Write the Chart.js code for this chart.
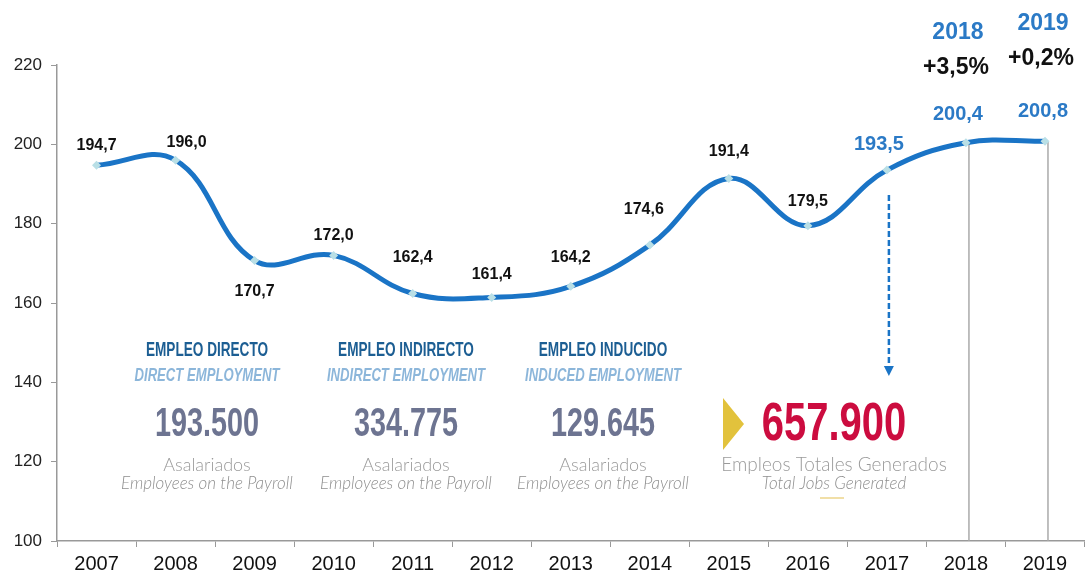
<!DOCTYPE html>
<html>
<head>
<meta charset="utf-8">
<script src="https://cdn.jsdelivr.net/npm/chart.js@4.4.0/dist/chart.umd.min.js"></script>
<style>
  body { margin: 0; background: #fff; }
  #wrap { width: 1089px; height: 577px; }
</style>
</head>
<body>
<div id="wrap"><canvas id="myChart" width="1089" height="577"></canvas></div>
<script>
// chart data
var years = ['2007', '2008', '2009', '2010', '2011', '2012', '2013', '2014', '2015', '2016', '2017', '2018', '2019'];
var empleo = [194.7, 196.0, 170.7, 172.0, 162.4, 161.4, 164.2, 174.6, 191.4, 179.5, 193.5, 200.4, 200.8];
var yTicks = [100, 120, 140, 160, 180, 200, 220];
var growthYears = ['2018', '2019'];
var growthLabels = ['+3,5%', '+0,2%'];
var blocks = [
    { titulo: 'EMPLEO DIRECTO', title: 'DIRECT EMPLOYMENT', valor: '193.500' },
    { titulo: 'EMPLEO INDIRECTO', title: 'INDIRECT EMPLOYMENT', valor: '334.775' },
    { titulo: 'EMPLEO INDUCIDO', title: 'INDUCED EMPLOYMENT', valor: '129.645' }
];
var total = '657.900';

var blue = '#1a74c6';

// offsets of value labels from their point
var labelOffsets = [[0, -20], [11, -18], [0, 31], [0, -20], [0, -36], [0, -23], [0, -29], [-6, -35], [0, -27], [0, -24], [-8, -26], [-8, -28], [-2, -30]];

function fmt(v) {
    return v.toFixed(1).replace('.', ',');
}

function condensedText(ctx, text, x, y, font, color, sx) {
    ctx.save();
    ctx.font = font;
    ctx.fillStyle = color;
    ctx.textAlign = 'center';
    ctx.textBaseline = 'middle';
    ctx.translate(x, y);
    ctx.scale(sx, 1);
    ctx.fillText(text, 0, 0);
    ctx.restore();
}

var extras = {
    id: 'extras',
    beforeDatasetsDraw: function (chart) {
        var ctx = chart.ctx;
        var meta = chart.getDatasetMeta(0);
        var yAxis = chart.scales.y;
        // drop lines for 2018 and 2019
        ctx.save();
        ctx.strokeStyle = '#aaaaaa';
        ctx.lineWidth = 1.5;
        growthYears.forEach(function (yr) {
            var p = meta.data[years.indexOf(yr)];
            ctx.beginPath();
            ctx.moveTo(p.x + 3, p.y);
            ctx.lineTo(p.x + 3, yAxis.bottom);
            ctx.stroke();
        });
        ctx.restore();

        // info blocks
        var cols = [207, 406, 603];
        blocks.forEach(function (b, i) {
            var cx = cols[i];
            condensedText(ctx, b.titulo, cx, 350, 'bold 20px "Liberation Sans"', '#1c5e93', 0.68);
            condensedText(ctx, b.title, cx, 376, 'italic bold 19px "Liberation Sans"', '#8cb6da', 0.69);
            condensedText(ctx, b.valor, cx, 425, 'bold 40px "Liberation Sans"', '#6d7491', 0.72);
            condensedText(ctx, 'Asalariados', cx, 465, '300 18px Lato', '#9a9a9a', 1);
            condensedText(ctx, 'Employees on the Payroll', cx, 484, 'italic 300 17px Lato', '#8f8f8f', 1);
        });
        // total
        ctx.save();
        ctx.fillStyle = '#e2c23c';
        ctx.beginPath();
        ctx.moveTo(723, 398);
        ctx.lineTo(744, 424);
        ctx.lineTo(723, 450);
        ctx.closePath();
        ctx.fill();
        ctx.strokeStyle = '#ecd58a';
        ctx.lineWidth = 1.5;
        ctx.beginPath();
        ctx.moveTo(820, 498);
        ctx.lineTo(844, 498);
        ctx.stroke();
        ctx.restore();
        condensedText(ctx, total, 834, 425, 'bold 54px "Liberation Sans"', '#cc0c3f', 0.74);
        condensedText(ctx, 'Empleos Totales Generados', 834, 465, '300 19px Lato', '#9a9a9a', 1);
        condensedText(ctx, 'Total Jobs Generated', 834, 484, 'italic 300 17px Lato', '#8f8f8f', 1);

        // dashed arrow
        var p17 = meta.data[years.indexOf('2017')];
        ctx.save();
        ctx.strokeStyle = blue;
        ctx.fillStyle = blue;
        ctx.lineWidth = 2.5;
        ctx.setLineDash([6, 3]);
        ctx.beginPath();
        ctx.moveTo(p17.x + 2, 195);
        ctx.lineTo(p17.x + 2, 367);
        ctx.stroke();
        ctx.setLineDash([]);
        ctx.beginPath();
        ctx.moveTo(p17.x - 3, 366);
        ctx.lineTo(p17.x + 7, 366);
        ctx.lineTo(p17.x + 2, 376);
        ctx.closePath();
        ctx.fill();
        ctx.restore();
    },
    afterDatasetsDraw: function (chart) {
        var ctx = chart.ctx;
        var meta = chart.getDatasetMeta(0);
        ctx.save();
        ctx.textAlign = 'center';
        ctx.textBaseline = 'middle';
        meta.data.forEach(function (p, i) {
            var off = labelOffsets[i];
            var highlight = i >= 10;
            ctx.font = highlight ? 'bold 20px "Liberation Sans"' : 'bold 16px "Liberation Sans"';
            ctx.fillStyle = highlight ? '#2b7ac6' : '#111';
            ctx.fillText(fmt(empleo[i]), p.x + off[0], p.y + off[1]);
        });
        // growth annotations
        growthYears.forEach(function (yr, k) {
            var p = meta.data[years.indexOf(yr)];
            var top = k === 0 ? 33 : 24;
            var dx = k === 0 ? -8 : -2;
            ctx.font = 'bold 23px "Liberation Sans"';
            ctx.fillStyle = '#2b7ac6';
            ctx.fillText(yr, p.x + dx, top);
            ctx.font = 'bold 23px "Liberation Sans"';
            ctx.fillStyle = '#111';
            ctx.fillText(growthLabels[k], p.x + dx - 2, top + 35);
        });
        ctx.restore();
    }
};

var ctx = document.getElementById('myChart').getContext('2d');
var myChart = new Chart(ctx, {
    type: 'line',
    data: {
        labels: years,
        datasets: [{
            label: 'Empleo',
            data: empleo,
            borderColor: blue,
            borderWidth: 5,
            tension: 0.4,
            pointStyle: 'rectRot',
            pointRadius: 4.5,
            pointBackgroundColor: '#b9dfe6',
            pointBorderWidth: 0,
            fill: false
        }]
    },
    options: {
        responsive: false,
        animation: false,
        layout: { padding: { top: 65, right: 1, left: 0, bottom: 0 } },
        plugins: {
            legend: { display: false },
            tooltip: { enabled: false }
        },
        scales: {
            x: {
                type: 'category',
                offset: true,
                grid: { offset: true, drawOnChartArea: false, drawTicks: true, tickLength: 6, color: '#999' },
                border: { color: '#999', width: 1.5 },
                ticks: { color: '#111', font: { family: '"Liberation Sans"', size: 20 }, padding: 5, maxRotation: 0 },
                afterFit: function (scale) { scale.height = 36; }
            },
            y: {
                min: 100,
                max: 220,
                afterBuildTicks: function (scale) {
                    scale.ticks = yTicks.map(function (v) { return { value: v }; });
                },
                grid: { drawOnChartArea: false, drawTicks: true, tickLength: 6, color: '#999' },
                border: { color: '#999', width: 1.5 },
                ticks: { color: '#222', font: { family: '"Liberation Sans"', size: 17 }, padding: 9 },
                afterFit: function (scale) { scale.width = 57; }
            }
        }
    },
    plugins: [extras]
});
</script>
</body>
</html>
